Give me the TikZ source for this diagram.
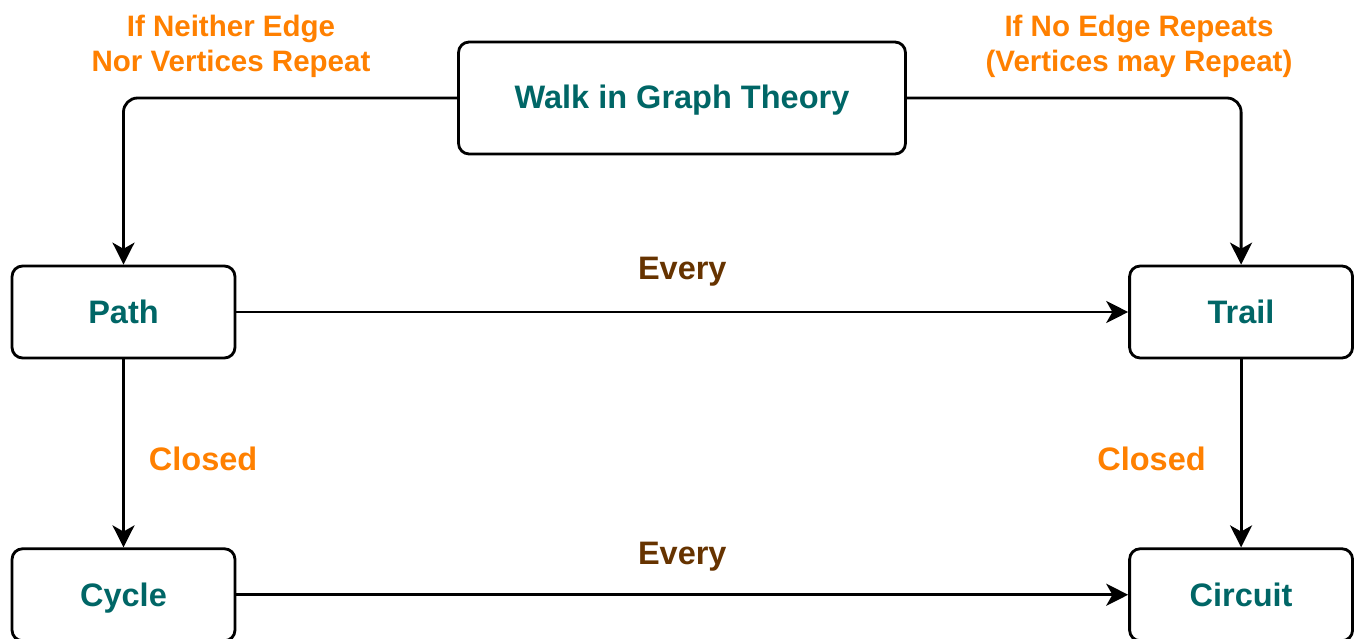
\documentclass[tikz,border=0pt]{standalone}
\usepackage{fontspec}
\setmainfont{Liberation Sans}
\usepackage{xcolor}
\definecolor{walkteal}{RGB}{0,102,102}
\definecolor{condorange}{RGB}{255,128,0}
\definecolor{everybrown}{RGB}{102,51,0}
\usepackage{tikz}
\usetikzlibrary{arrows.meta, positioning}
\tikzset{
  walkbox/.style={
    rectangle, rounded corners=6pt, draw=black, line width=1.6pt,
    minimum width=8.94cm, minimum height=2.24cm,
    text height=14.5pt, text depth=2.5pt,
    text centered, text=walkteal, font=\fontsize{18.5}{22}\selectfont\bfseries
  },
  kindbox/.style={
    rectangle, rounded corners=6pt, draw=black, line width=1.6pt,
    minimum width=4.46cm, minimum height=1.84cm,
    text height=15pt, text depth=2pt,
    text centered, text=walkteal, font=\fontsize{18.5}{22}\selectfont\bfseries
  },
  condtext/.style={
    text=condorange, align=center, inner sep=0pt,
    font=\fontsize{16.8}{20}\selectfont\bfseries
  },
  closedtext/.style={
    text=condorange, inner sep=0pt,
    font=\fontsize{18.5}{22}\selectfont\bfseries
  },
  everytext/.style={
    text=everybrown, inner sep=0pt,
    font=\fontsize{18.5}{22}\selectfont\bfseries
  },
  arrow/.style={line width=1.6pt, rounded corners=8pt,
    -{Stealth[length=12.5pt,width=12.5pt,inset=3.5pt]}},
}
\begin{document}
\begin{tikzpicture}[x=0.02cm, y=-0.02cm]
  \useasboundingbox (0,0) rectangle (1357,639);

  \node (walk)    [walkbox] at (682,98)           {Walk in Graph Theory};
  \node (path)    [kindbox] at (123.5,312)        {Path};
  \node (trail)   [kindbox, right=17.84cm of path] {Trail};
  \node (cycle)   [kindbox, below=3.76cm of path]  {Cycle};
  \node (circuit) [kindbox, below=3.76cm of trail] {Circuit};

  \node (neither) [condtext] at (231,46)  {If Neither Edge\\Nor Vertices Repeat};
  \node (noedge)  [condtext] at (1139,46) {If No Edge Repeats\\(Vertices may Repeat)};

  \draw [arrow] (walk.west) -| (path.north);
  \draw [arrow] (walk.east) -| (trail.north);
  \draw [arrow] (path)  -- node (every1) [everytext, above=0.48cm] {Every} (trail);
  \draw [arrow] (cycle) -- node (every2) [everytext, above=0.44cm] {Every} (circuit);
  \draw [arrow] (path)  -- node (closed1) [closedtext, right=0.48cm, pos=0.53] {Closed} (cycle);
  \draw [arrow] (trail) -- node (closed2) [closedtext, left=0.68cm, pos=0.53] {Closed} (circuit);
\end{tikzpicture}
\end{document}
